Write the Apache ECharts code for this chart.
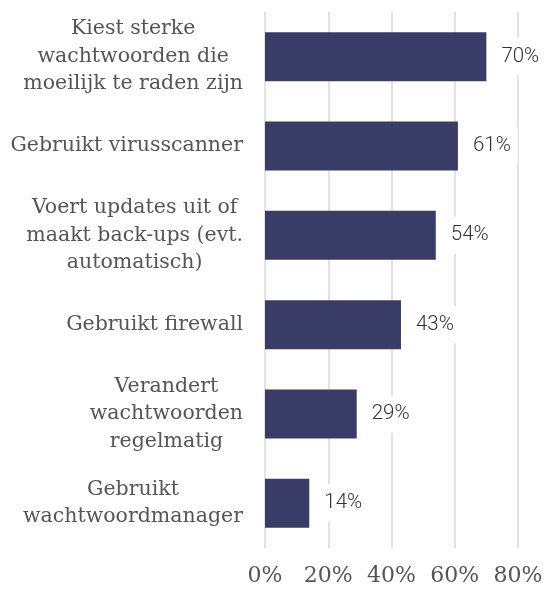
<!DOCTYPE html>
<html>
<head>
<meta charset="utf-8">
<script src="https://cdn.jsdelivr.net/npm/echarts@6/dist/echarts.min.js"></script>
<style>
  html, body { margin: 0; padding: 0; background: #fff; }
  #chart { width: 548px; height: 592px; }
</style>
</head>
<body>
<div id="chart"></div>
<script>
// Security habits, share of respondents (%)
const categories = [
  'Kiest sterke\nwachtwoorden die\nmoeilijk te raden zijn',
  'Gebruikt virusscanner',
  'Voert updates uit of\nmaakt back-ups (evt.\nautomatisch)',
  'Gebruikt firewall',
  'Verandert\nwachtwoorden\nregelmatig',
  'Gebruikt\nwachtwoordmanager'
];
const values = [70, 61, 54, 43, 29, 14];
const xTicks = [0, 20, 40, 60, 80];

const serif = "'DejaVu Serif', 'Liberation Serif', serif";

const chart = echarts.init(document.getElementById('chart'), null, { renderer: 'canvas' });

chart.setOption({
  animation: false,
  backgroundColor: '#ffffff',
  grid: { left: 265, right: 30, top: 12, bottom: 44, containLabel: false },
  xAxis: {
    type: 'value',
    min: xTicks[0],
    max: xTicks[xTicks.length - 1],
    interval: xTicks[1] - xTicks[0],
    axisLine: { show: false },
    axisTick: { show: false },
    splitLine: { show: true, lineStyle: { color: '#d9d9d9', width: 1.5 } },
    axisLabel: {
      formatter: '{value}%',
      fontFamily: serif,
      fontSize: 22,
      color: '#555555',
      margin: 17
    }
  },
  yAxis: {
    type: 'category',
    inverse: true,
    data: categories,
    axisLine: { show: false },
    axisTick: { show: false },
    axisLabel: {
      margin: 22,
      align: 'right',
      // each line centred within the right-aligned label block
      formatter: function (v) {
        return v.split('\n').map(function (l) { return '{c|' + l + '}'; }).join('\n');
      },
      rich: {
        c: {
          align: 'center',
          fontFamily: serif,
          fontSize: 20.5,
          lineHeight: 27.5,
          color: '#555555'
        }
      }
    }
  },
  series: [{
    type: 'bar',
    data: values,
    barWidth: 49,
    itemStyle: { color: '#383c67' },
    label: {
      show: true,
      position: 'right',
      distance: 8,
      formatter: '{c}%',
      fontFamily: "Roboto, 'Noto Sans', sans-serif",
      fontSize: 20.5,
      fontWeight: 300,
      color: '#333333',
      backgroundColor: '#ffffff',
      padding: [8, 7]
    }
  }]
});
</script>
</body>
</html>
